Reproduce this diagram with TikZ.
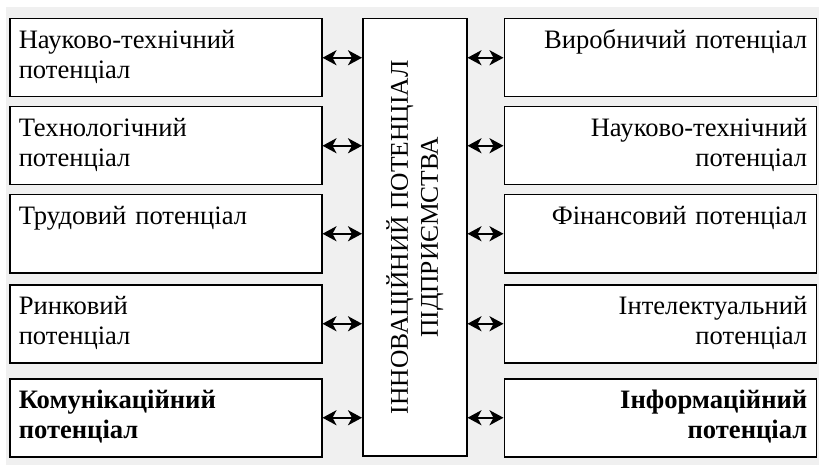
\documentclass[tikz,border=0pt]{standalone}
\usepackage{fontspec}
\setmainfont{Liberation Serif}
\usetikzlibrary{arrows.meta}
\definecolor{panel}{HTML}{F0F0F0}
\begin{document}
\begin{tikzpicture}[x=1pt,y=-1pt,
  sidebox/.style={draw=black, line width=1.5pt, fill=white,
    font=\fontsize{26.6}{29.5}\selectfont,
    inner xsep=9pt, inner ysep=0pt, text width=294pt,
    text height=30pt, text depth=48pt},
  leftbox/.style={sidebox, align=left, anchor=north west},
  rightbox/.style={sidebox, align=right, anchor=north east},
  corebox/.style={draw=black, line width=1.5pt, fill=white, inner sep=0pt,
    minimum width=104pt, minimum height=437pt, anchor=north west},
  coretitle/.style={rotate=90, align=center, inner sep=0pt,
    font=\fontsize{25.5}{30}\selectfont},
  tip/.tip={Stealth[length=14pt,width=15pt,inset=4pt]},
  link/.style={tip-tip, line width=2pt}
]
\useasboundingbox (0,0) rectangle (819,465);
\fill[panel] (6,7) rectangle (819,465);

% central block
\node[corebox] (core) at (362,18) {};
\node[coretitle] (coretext) at (core.center)
  {ІННОВАЦІЙНИЙ ПОТЕНЦІАЛ\\ПІДПРИЄМСТВА};

% left column
\node[leftbox] (l1) at (9,18)  {Науково-технічний потенціал};
\node[leftbox] (l2) at (9,106) {Технологічний\\потенціал};
\node[leftbox] (l3) at (9,194) {Трудовий потенціал};
\node[leftbox] (l4) at (9,284) {Ринковий\\потенціал};
\node[leftbox] (l5) at (9,378) {\bfseries Комунікаційний\\потенціал};

% right column
\node[rightbox] (r1) at (817,18)  {Виробничий потенціал};
\node[rightbox] (r2) at (817,106) {Науково-технічний\\потенціал};
\node[rightbox] (r3) at (817,194) {Фінансовий потенціал};
\node[rightbox] (r4) at (817,284) {Інтелектуальний\\потенціал};
\node[rightbox] (r5) at (817,378) {\bfseries Інформаційний\\потенціал};

% two-way links
\foreach \b in {l1,l2,l3,l4,l5}
  \draw[link] (\b.east) -- (\b.east -| core.west);
\foreach \b in {r1,r2,r3,r4,r5}
  \draw[link] (\b.west -| core.east) -- (\b.west);
\end{tikzpicture}
\end{document}
